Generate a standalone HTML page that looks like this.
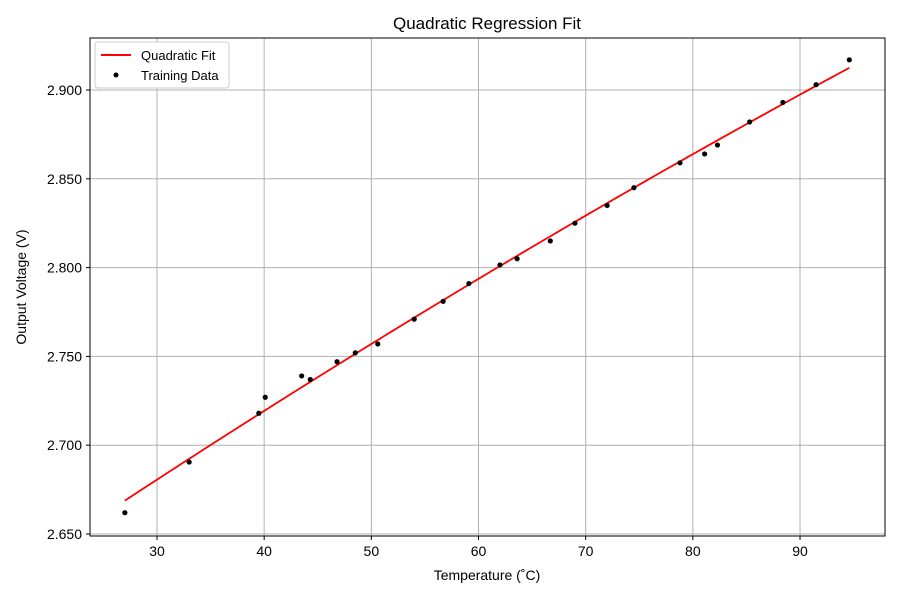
<!DOCTYPE html>
<html><head><meta charset="utf-8"><style>
body{margin:0;background:#fff;font-family:"Liberation Sans",sans-serif}
text{font-family:"Liberation Sans",sans-serif;fill:#000}
</style></head><body>
<svg id="chart" width="900" height="600" xmlns="http://www.w3.org/2000/svg">
<rect width="900" height="600" fill="#fff"/>
<text x="487" y="29" font-size="17" text-anchor="middle">Quadratic Regression Fit</text>
<g id="grid"></g>
<g id="xticks"></g><g id="yticks"></g>
<g id="series"></g>
<rect x="90" y="38" width="795" height="498" fill="none" stroke="#000" stroke-width="1"/>
<text x="487" y="580" font-size="14" text-anchor="middle">Temperature (˚C)</text>
<text transform="translate(26,287) rotate(-90)" font-size="14" text-anchor="middle">Output Voltage (V)</text>
<g>
<rect x="95" y="42" width="134" height="46" fill="#fff" stroke="#ccc" rx="3"/>
<line x1="101" y1="55" x2="131" y2="55" stroke="red" stroke-width="2"/>
<text x="141" y="60" font-size="13">Quadratic Fit</text>
<circle cx="116" cy="75" r="2.5" fill="#000"/>
<text x="141" y="80" font-size="13">Training Data</text>
</g>
</svg>
<script>
const xTicks=[30,40,50,60,70,80,90];
const yTicks=[2.65,2.70,2.75,2.80,2.85,2.90];
const temps=[27.0,33.0,39.5,40.1,43.5,44.3,46.8,48.5,50.6,54.0,56.7,59.1,62.0,63.6,66.7,69.0,72.0,74.5,78.8,81.1,82.3,85.3,88.4,91.5,94.6];
const volts=[2.662,2.6905,2.718,2.727,2.739,2.737,2.747,2.752,2.757,2.771,2.781,2.791,2.8015,2.805,2.815,2.825,2.835,2.845,2.859,2.864,2.869,2.882,2.893,2.903,2.917];
const NS="http://www.w3.org/2000/svg";
const px=x=>157+(x-30)*10.717;
const py=v=>90+(2.9-v)/0.05*88.8;
function mk(t,a,p){const e=document.createElementNS(NS,t);for(const k in a)e.setAttribute(k,a[k]);document.getElementById(p).appendChild(e);return e;}
xTicks.forEach(t=>{
 const g=mk('line',{x1:px(t),x2:px(t),y1:38,y2:536,stroke:'#b0b0b0','stroke-width':1},'grid');
 
 
 mk('line',{x1:px(t),x2:px(t),y1:536,y2:540,stroke:'#000'},'xticks');
 const l=mk('text',{x:px(t),y:556,'font-size':14,'text-anchor':'middle'},'xticks');l.textContent=t;
 
 
});
yTicks.forEach(t=>{
 const g=mk('line',{x1:90,x2:885,y1:py(t),y2:py(t),stroke:'#b0b0b0','stroke-width':1},'grid');
 
 
 mk('line',{x1:86,x2:90,y1:py(t),y2:py(t),stroke:'#000'},'yticks');
 const l=mk('text',{x:82,y:py(t)+5,'font-size':14,'text-anchor':'end'},'yticks');l.textContent=t.toFixed(3);
 
 
});
// quadratic least squares
let S=[0,0,0,0,0],T=[0,0,0];
temps.forEach((x,i)=>{for(let k=0;k<5;k++)S[k]+=Math.pow(x,k);for(let k=0;k<3;k++)T[k]+=volts[i]*Math.pow(x,k);});
let M=[[S[0],S[1],S[2],T[0]],[S[1],S[2],S[3],T[1]],[S[2],S[3],S[4],T[2]]];
for(let i=0;i<3;i++){for(let j=i+1;j<3;j++){const f=M[j][i]/M[i][i];for(let k=i;k<4;k++)M[j][k]-=f*M[i][k];}}
const c=[0,0,0];for(let i=2;i>=0;i--){let s=M[i][3];for(let k=i+1;k<3;k++)s-=M[i][k]*c[k];c[i]=s/M[i][i];}
const xmin=Math.min(...temps),xmax=Math.max(...temps);let d='';
for(let i=0;i<=100;i++){const x=xmin+(xmax-xmin)*i/100;const v=c[0]+c[1]*x+c[2]*x*x;d+=(i?'L':'M')+px(x).toFixed(2)+','+py(v).toFixed(2);}
const fit=mk('path',{d:d,fill:'none',stroke:'red','stroke-width':1.8},'series');


temps.forEach((x,i)=>{
 const p=mk('circle',{cx:px(x),cy:py(volts[i]),r:2.6,fill:'#000'},'series');
 
 
});
</script>
</body></html>
